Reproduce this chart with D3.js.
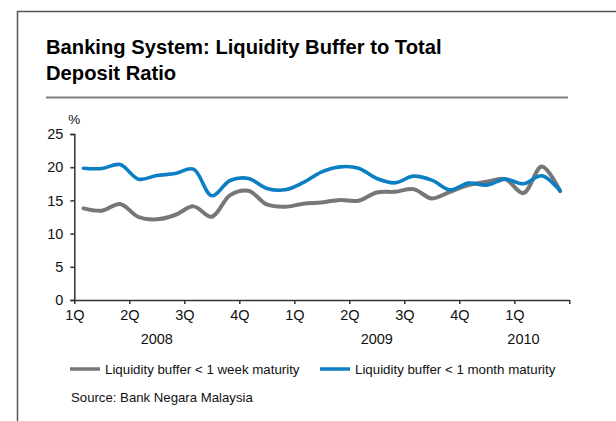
<!DOCTYPE html>
<html>
<head>
<meta charset="utf-8">
<script src="https://cdn.jsdelivr.net/npm/d3@7"></script>
<style>
  html, body { margin: 0; padding: 0; background: #fff; }
  svg { display: block; font-family: "Liberation Sans", Arial, sans-serif; }
</style>
</head>
<body>
<svg id="chart" width="616" height="421"></svg>
<script>
// ---- data ----
const months = d3.range(27); // Jan 2008 .. Mar 2010, monthly
const weekBuffer = [13.8, 13.45, 14.45, 12.5, 12.15, 12.8, 14.1, 12.55, 15.8, 16.45, 14.4, 14.05,
                    14.5, 14.7, 15.05, 14.95, 16.2, 16.3, 16.7, 15.3, 16.3, 17.3, 17.8, 18.2,
                    16.1, 20.1, 16.4];
const monthBuffer = [19.85, 19.8, 20.4, 18.2, 18.75, 19.05, 19.7, 15.7, 18.0, 18.3, 16.8, 16.6,
                     17.7, 19.3, 20.05, 19.85, 18.3, 17.65, 18.65, 18.05, 16.6, 17.6, 17.3, 18.2,
                     17.5, 18.7, 16.45];
const quarterLabels = ["1Q", "2Q", "3Q", "4Q", "1Q", "2Q", "3Q", "4Q", "1Q", ""];
const years = ["2008", "2009", "2010"];
const yearCenters = [4.5, 16.5, 24.5]; // in months from Jan 2008
const yTicks = [0, 5, 10, 15, 20, 25];
const seriesNames = ["Liquidity buffer < 1 week maturity", "Liquidity buffer < 1 month maturity"];
const seriesColors = ["#777777", "#0a7fc4"];
const titleLines = ["Banking System: Liquidity Buffer to Total", "Deposit Ratio"];
const sourceText = "Source: Bank Negara Malaysia";

// ---- layout ----
const svg = d3.select("#chart");
const x = d3.scaleLinear().domain([0, 27]).range([74.3, 569.3]);
const y = d3.scaleLinear().domain([0, 25]).range([300, 134]);

// frame
svg.append("line").attr("x1", 17.5).attr("x2", 17.5).attr("y1", 11).attr("y2", 421)
  .attr("stroke", "#555").attr("stroke-width", 1.5);
svg.append("line").attr("x1", 17).attr("x2", 616).attr("y1", 11.5).attr("y2", 11.5)
  .attr("stroke", "#555").attr("stroke-width", 1.5);

// title
const title = svg.append("text").attr("x", 46).attr("y", 54)
  .attr("font-size", 20.2).attr("font-weight", "bold").attr("fill", "#000");
titleLines.forEach((t, i) => {
  title.append("tspan").attr("x", 46).attr("dy", i === 0 ? 0 : 26).text(t);
});
svg.append("line").attr("x1", 46).attr("x2", 568).attr("y1", 97.5).attr("y2", 97.5)
  .attr("stroke", "#808080").attr("stroke-width", 2);

// y axis
const yAxis = d3.axisLeft(y).tickValues(yTicks).tickSize(4).tickPadding(7);
const gy = svg.append("g").attr("transform", `translate(${x(0)},0)`).call(yAxis);
gy.select(".domain").attr("stroke", "#333").attr("stroke-width", 1.5);
gy.selectAll(".tick line").attr("stroke", "#333").attr("stroke-width", 1.5);
gy.selectAll(".tick text").attr("font-size", 14.5).attr("fill", "#111")
  .attr("font-family", "Liberation Sans, Arial, sans-serif");

svg.append("text").attr("x", x(0)).attr("y", 124).attr("text-anchor", "middle")
  .attr("font-size", 13.5).attr("fill", "#111").text("%");

// x axis
const xAxis = d3.axisBottom(x).tickValues(d3.range(0, 28, 3))
  .tickFormat((d, i) => quarterLabels[i]).tickSize(4).tickPadding(6).tickSizeOuter(0);
const gx = svg.append("g").attr("transform", `translate(0,${y(0)})`).call(xAxis);
gx.select(".domain").attr("stroke", "#333").attr("stroke-width", 1.5);
gx.selectAll(".tick line").attr("stroke", "#333").attr("stroke-width", 1.5);
gx.selectAll(".tick text").attr("font-size", 14.5).attr("fill", "#111")
  .attr("font-family", "Liberation Sans, Arial, sans-serif");

svg.append("g").selectAll("text").data(years).join("text")
  .attr("x", (d, i) => x(yearCenters[i])).attr("y", 344)
  .attr("text-anchor", "middle").attr("font-size", 14.5).attr("fill", "#111")
  .text(d => d);

// lines
const line = d3.line().x(d => x(d[0] + 0.5)).y(d => y(d[1])).curve(d3.curveCatmullRom.alpha(0.5));
const series = [weekBuffer, monthBuffer];
series.forEach((vals, s) => {
  svg.append("path").datum(months.map(m => [m, vals[m]]))
    .attr("fill", "none").attr("stroke", seriesColors[s])
    .attr("stroke-width", s === 0 ? 4 : 3.6)
    .attr("stroke-linejoin", "round").attr("stroke-linecap", "round")
    .attr("d", line);
});

// legend
const legendX = [70, 320];
const lg = svg.append("g").selectAll("g").data(seriesNames).join("g")
  .attr("transform", (d, i) => `translate(${legendX[i]},369)`);
lg.append("line").attr("x1", 0).attr("x2", 30).attr("y1", 0).attr("y2", 0)
  .attr("stroke", (d, i) => seriesColors[i]).attr("stroke-width", 3.5);
lg.append("text").attr("x", 35).attr("y", 4.5).attr("font-size", 13.3).attr("fill", "#111")
  .text(d => d);

// source
svg.append("text").attr("x", 71).attr("y", 402).attr("font-size", 13.2).attr("fill", "#111")
  .text(sourceText);
</script>
</body>
</html>
